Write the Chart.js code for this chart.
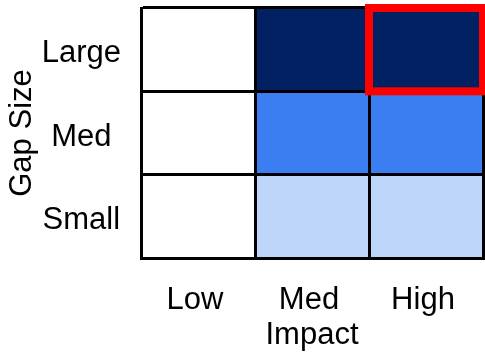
<!DOCTYPE html>
<html>
<head>
<meta charset="utf-8">
<script src="https://cdn.jsdelivr.net/npm/chart.js@4.4.1/dist/chart.umd.min.js"></script>
<style>
  html, body { margin: 0; padding: 0; background: #fff; }
  #wrap { width: 485px; height: 361px; }
</style>
</head>
<body>
<div id="wrap"><canvas id="gapMatrix" width="485" height="361"></canvas></div>
<script>
// Impact along the bottom, gap size up the side (bottom row first)
const impactLabels = ['Low', 'Med', 'High'];
const gapLabels = ['Small', 'Med', 'Large'];

// Shade level of each cell, one row per gap size: 0 = blank .. 3 = darkest
const cellLevels = [
    [0, 1, 1],  // Small
    [0, 2, 2],  // Med
    [0, 3, 3]   // Large
];

// every cell is one unit tall
const cellHeight = [1, 1, 1];

const levelColors = ['#ffffff', '#bdd5f9', '#3a7ef1', '#012162'];

// cell that gets the red outline
const highlightGap = 'Large';
const highlightImpact = 'High';

Chart.defaults.font.family = "'Liberation Sans', Arial, sans-serif";
Chart.defaults.color = '#000';

const highlightCell = {
    id: 'highlightCell',
    afterDraw(chart) {
        const row = gapLabels.indexOf(highlightGap);
        const col = impactLabels.indexOf(highlightImpact);
        const bar = chart.getDatasetMeta(row).data[col];
        const { x, y, base, width } = bar.getProps(['x', 'y', 'base', 'width'], true);
        const ctx = chart.ctx;
        ctx.save();
        ctx.strokeStyle = '#ff0000';
        ctx.lineWidth = 8;
        ctx.strokeRect(x - width / 2, y, width, base - y);
        ctx.restore();
    }
};

// grid and border go on top of the cells
const gridLines = { offset: true, color: '#000', lineWidth: 3, drawTicks: false, z: 1 };
const axisBorder = { color: '#000', width: 3, z: 1 };

// fixed axis boxes so the matrix fills the same area every time
function fixBox(s, size) {
    if (s.isHorizontal()) s.height = size; else s.width = size;
    s.paddingTop = s.paddingBottom = s.paddingLeft = s.paddingRight = 0;
}

new Chart(document.getElementById('gapMatrix'), {
    type: 'bar',
    data: {
        labels: impactLabels,
        datasets: gapLabels.map((gap, r) => ({
            label: gap,
            data: cellHeight,
            backgroundColor: cellLevels[r].map(l => levelColors[l]),
            borderWidth: 0,
            barPercentage: 1,
            categoryPercentage: 1
        }))
    },
    options: {
        responsive: false,
        animation: false,
        layout: { padding: { top: 8, right: 2, left: 0, bottom: 0 } },
        plugins: {
            legend: { display: false },
            tooltip: { enabled: false }
        },
        scales: {
            x: {
                stacked: true,
                offset: true,
                grid: gridLines,
                border: axisBorder,
                ticks: { font: { size: 31 }, padding: 24, labelOffset: -3 },
                title: {
                    display: true,
                    text: 'Impact',
                    font: { size: 31 },
                    padding: { top: 0, bottom: 7 }
                },
                afterFit: s => fixBox(s, 103)
            },
            y: {
                stacked: true,
                min: 0,
                max: 3,
                grid: gridLines,
                border: axisBorder,
                afterBuildTicks: s => { s.ticks = gapLabels.map((g, i) => ({ value: i + 0.5 })); },
                ticks: {
                    font: { size: 31 },
                    padding: 20,
                    crossAlign: 'center',
                    labelOffset: 4,
                    callback: (v, i) => gapLabels[i]
                },
                title: {
                    display: true,
                    text: 'Gap Size',
                    font: { size: 31 },
                    padding: { top: 4, bottom: 0 }
                },
                afterFit: s => fixBox(s, 141)
            }
        }
    },
    plugins: [highlightCell]
});
</script>
</body>
</html>
